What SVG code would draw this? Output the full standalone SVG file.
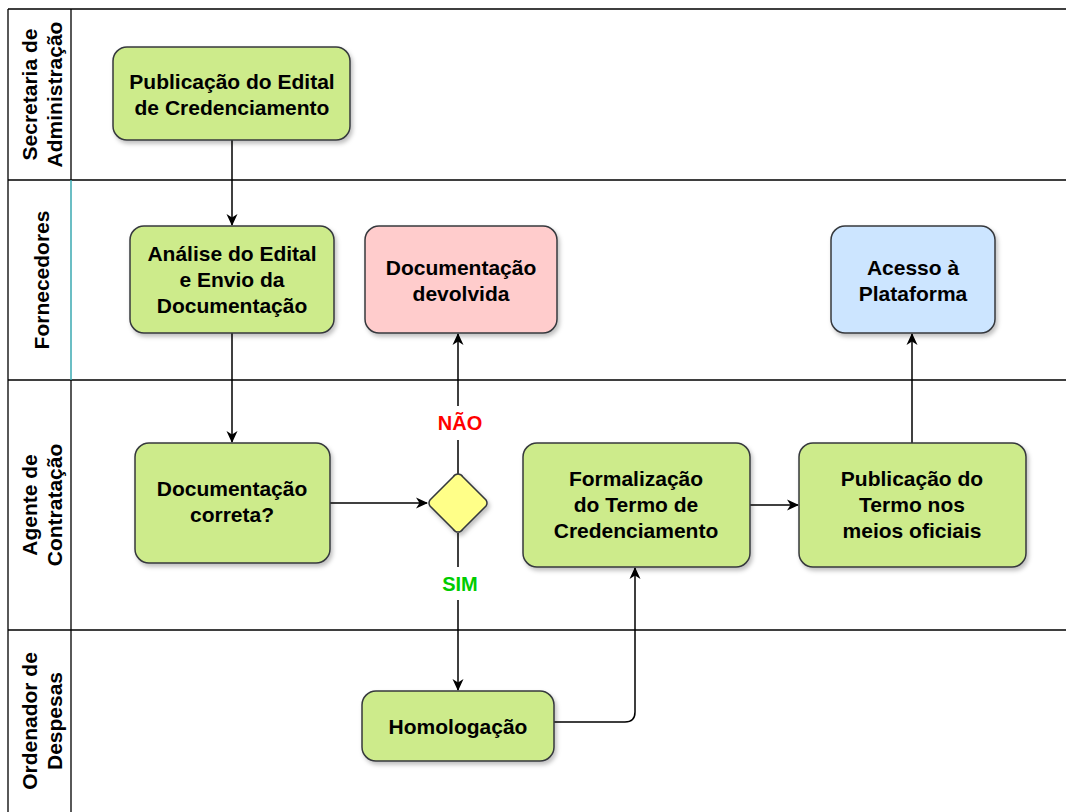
<svg xmlns="http://www.w3.org/2000/svg" width="1066" height="812" viewBox="0 0 1066 812">
<defs>
<style>
.lane{fill:none;stroke:#000;stroke-width:1.3}
.hdr{font-family:"Liberation Sans",Arial,sans-serif;font-size:21px;font-weight:bold;fill:#000;text-anchor:middle}
.box{stroke:#36393d;stroke-width:1.5;filter:url(#sh)}
.g{fill:#cdeb8b}
.r{fill:#ffcccc}
.b{fill:#cce5ff}
.y{fill:#ffff88}
.t{font-family:"Liberation Sans",Arial,sans-serif;font-size:21px;font-weight:bold;fill:#000;text-anchor:middle}
.e{fill:none;stroke:#000;stroke-width:1.5}
.lbl{font-family:"Liberation Sans",Arial,sans-serif;font-size:20px;font-weight:bold;text-anchor:middle}
</style>
<filter id="sh" x="-10%" y="-10%" width="130%" height="140%">
<feDropShadow dx="2" dy="3" stdDeviation="2" flood-color="#000" flood-opacity="0.25"/>
</filter>
<marker id="ar" viewBox="0 0 12 12" refX="11" refY="6" markerWidth="12" markerHeight="12" markerUnits="userSpaceOnUse" orient="auto">
<path d="M0,0.5 L12,6 L0,11.5 L3.5,6 Z" fill="#000"/>
</marker>
</defs>
<g id="lanes">
<path class="lane" d="M8,9 H1066 M8,180 H1066 M8,380 H1066 M8,630 H1066 M8,9 V812 M71,9 V180 M71,380 V812"/>
<path d="M71,180 V380" stroke="#3aa8b0" stroke-width="1.5"/>
<text class="hdr" transform="translate(37,94.5) rotate(-90)">Secretaria de</text>
<text class="hdr" transform="translate(62,94.5) rotate(-90)">Administração</text>
<text class="hdr" transform="translate(49,280) rotate(-90)">Fornecedores</text>
<text class="hdr" transform="translate(37,505) rotate(-90)">Agente de</text>
<text class="hdr" transform="translate(62,505) rotate(-90)">Contratação</text>
<text class="hdr" transform="translate(37,721) rotate(-90)">Ordenador de</text>
<text class="hdr" transform="translate(62,721) rotate(-90)">Despesas</text>
</g>
<g id="edges">
<path class="e" d="M232,140 V225" marker-end="url(#ar)"/>
<path class="e" d="M232,333 V442" marker-end="url(#ar)"/>
<path class="e" d="M330,503 H427" marker-end="url(#ar)"/>
<path class="e" d="M458,474 V440 M458,406 V334" marker-end="url(#ar)"/>
<path class="e" d="M458,533 V567 M458,600 V690" marker-end="url(#ar)"/>
<path class="e" d="M554,722 H625 Q635,722 635,712 V568" marker-end="url(#ar)"/>
<path class="e" d="M750,505 H798" marker-end="url(#ar)"/>
<path class="e" d="M912,443 V334" marker-end="url(#ar)"/>
<text class="lbl" x="460" y="430" fill="#ff0000">NÃO</text>
<text class="lbl" x="460" y="591" fill="#00cc00">SIM</text>
</g>
<g id="n1"><rect class="box g" x="113" y="47" width="237" height="93" rx="14"/>
<text class="t" x="232" y="89">Publicação do Edital</text><text class="t" x="232" y="115">de Credenciamento</text></g>
<g id="n2"><rect class="box g" x="130" y="226" width="204" height="107" rx="14"/>
<text class="t" x="232" y="261">Análise do Edital</text><text class="t" x="232" y="287">e Envio da</text><text class="t" x="232" y="313">Documentação</text></g>
<g id="n3"><rect class="box r" x="365" y="226" width="192" height="107" rx="14"/>
<text class="t" x="461" y="275">Documentação</text><text class="t" x="461" y="301">devolvida</text></g>
<g id="n4"><rect class="box b" x="831" y="226" width="164" height="107" rx="14"/>
<text class="t" x="913" y="275">Acesso à</text><text class="t" x="913" y="301">Plataforma</text></g>
<g id="n5"><rect class="box g" x="135" y="443" width="195" height="120" rx="14"/>
<text class="t" x="232" y="496">Documentação</text><text class="t" x="232" y="522">correta?</text></g>
<g id="n6"><path class="box y" d="M458,474 Q461,474 463,477 L486,500 Q488,503 486,506 L463,529 Q461,532 458,532 Q455,532 453,529 L430,506 Q428,503 430,500 L453,477 Q455,474 458,474 Z"/></g>
<g id="n7"><rect class="box g" x="523" y="443" width="227" height="124" rx="14"/>
<text class="t" x="636" y="486">Formalização</text><text class="t" x="636" y="512">do Termo de</text><text class="t" x="636" y="538">Credenciamento</text></g>
<g id="n8"><rect class="box g" x="799" y="443" width="227" height="124" rx="14"/>
<text class="t" x="912" y="486">Publicação do</text><text class="t" x="912" y="512">Termo nos</text><text class="t" x="912" y="538">meios oficiais</text></g>
<g id="n9"><rect class="box g" x="362" y="691" width="192" height="70" rx="14"/>
<text class="t" x="458" y="734">Homologação</text></g>
</svg>
